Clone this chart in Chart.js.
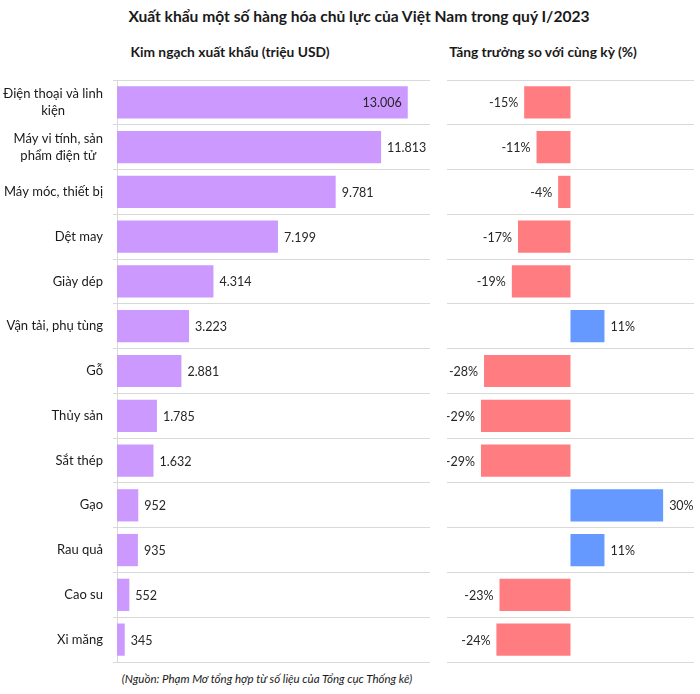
<!DOCTYPE html>
<html lang="vi">
<head>
<meta charset="utf-8">
<title>Xuất khẩu quý I/2023</title>
<script src="https://cdn.jsdelivr.net/npm/chart.js@4.4.0/dist/chart.umd.min.js"></script>
<style>
    body { margin: 0; background: #fff; font-family: Lato, "Noto Sans", sans-serif; color: #1a1a1a; }
    #page { position: relative; width: 700px; height: 694px; overflow: hidden; }
    .title { position: absolute; top: 7px; left: 0; width: 718px; text-align: center; font-weight: bold; font-size: 15.6px; }
    .sub { position: absolute; top: 43px; font-weight: bold; font-size: 13.8px; text-align: center; }
    .source { position: absolute; top: 672px; left: 0; width: 534px; text-align: center; font-style: italic; font-size: 11.5px; }
    #wrapLeft { position: absolute; left: 0; top: 78px; width: 432px; height: 588px; }
    #wrapRight { position: absolute; left: 447px; top: 78px; width: 251px; height: 588px; }
</style>
</head>
<body>
<div id="page">
    <div class="title">Xuất khẩu một số hàng hóa chủ lực của Việt Nam trong quý I/2023</div>
    <div class="sub" style="left:110px; width:240px;">Kim ngạch xuất khẩu (triệu USD)</div>
    <div class="sub" style="left:423px; width:240px;">Tăng trưởng so với cùng kỳ (%)</div>
    <div id="wrapLeft"><canvas id="exportChart"></canvas></div>
    <div id="wrapRight"><canvas id="growthChart"></canvas></div>
    <div class="source">(Nguồn: Phạm Mơ tổng hợp từ số liệu của Tổng cục Thống kê)</div>
</div>

<script>
// Dữ liệu
const categories = [
    ['Điện thoại và linh', 'kiện'],
    ['Máy vi tính, sản', 'phẩm điện tử'],
    'Máy móc, thiết bị',
    'Dệt may',
    'Giày dép',
    'Vận tải, phụ tùng',
    'Gỗ',
    'Thủy sản',
    'Sắt thép',
    'Gạo',
    'Rau quả',
    'Cao su',
    'Xi măng'
];
const exportValues = [13006, 11813, 9781, 7199, 4314, 3223, 2881, 1785, 1632, 952, 935, 552, 345];
const growthValues = [-15, -11, -4, -17, -19, 11, -28, -29, -29, 30, 11, -23, -24];

const FONT = 'Lato, "Noto Sans", sans-serif';
const GRID = '#d9d9d9';
const PURPLE = '#cc99ff';
const RED = '#ff7c80';
const BLUE = '#6699ff';

// số kiểu Việt Nam: 13.006
function fmtNumber(v) {
    return String(v).replace(/\B(?=(\d{3})+(?!\d))/g, '.');
}

// Nhãn giá trị ở đầu mỗi thanh
const barLabels = {
    id: 'barLabels',
    afterDatasetsDraw(chart, args, opts) {
        const ctx = chart.ctx;
        const area = chart.chartArea;
        const meta = chart.getDatasetMeta(0);
        const data = chart.data.datasets[0].data;
        ctx.save();
        ctx.font = '12.5px ' + FONT;
        ctx.fillStyle = '#262626';
        ctx.textBaseline = 'middle';
        meta.data.forEach((bar, i) => {
            const text = opts.format(data[i]);
            const w = ctx.measureText(text).width;
            const pad = 6;
            if (data[i] >= 0) {
                if (bar.x + pad + w > area.right) {
                    ctx.textAlign = 'right';
                    ctx.fillText(text, bar.x - pad, bar.y + 1);
                } else {
                    ctx.textAlign = 'left';
                    ctx.fillText(text, bar.x + pad, bar.y + 1);
                }
            } else {
                ctx.textAlign = 'right';
                ctx.fillText(text, bar.x - pad, bar.y + 1);
            }
        });
        ctx.restore();
    }
};

// Nhãn danh mục: dòng đôi căn giữa với nhau, khối căn phải
const categoryLabels = {
    id: 'categoryLabels',
    afterDraw(chart) {
        const ctx = chart.ctx;
        const yScale = chart.scales.y;
        const right = chart.chartArea.left - 14;
        ctx.save();
        ctx.font = '13px ' + FONT;
        ctx.fillStyle = '#1a1a1a';
        ctx.textBaseline = 'middle';
        ctx.textAlign = 'center';
        chart.data.labels.forEach((label, i) => {
            const lines = Array.isArray(label) ? label : [label];
            const maxW = Math.max(...lines.map(l => ctx.measureText(l).width));
            const cx = right - maxW / 2;
            const cy = yScale.getPixelForTick(i);
            const lh = 17;
            lines.forEach((l, k) => {
                ctx.fillText(l, cx, cy + (k - (lines.length - 1) / 2) * lh);
            });
        });
        ctx.restore();
    }
};

function baseOptions(min, max) {
    return {
        indexAxis: 'y',
        responsive: true,
        maintainAspectRatio: false,
        animation: false,
        layout: { padding: { top: 2, bottom: 4, right: 2, left: 0 } },
        plugins: { legend: { display: false }, tooltip: { enabled: false } },
        scales: {
            x: { display: false, min: min, max: max },
            y: {
                ticks: { display: false },
                grid: { color: GRID, offset: true, drawTicks: false },
                border: { display: false }
            }
        }
    };
}

// Biểu đồ kim ngạch
const leftOpts = baseOptions(0, 14000);
leftOpts.scales.y.grid.drawTicks = true;
leftOpts.scales.y.grid.tickLength = 4;
leftOpts.scales.y.border = { display: true, color: GRID };
leftOpts.scales.y.afterFit = s => { s.width = 117; };
leftOpts.plugins.barLabels = { format: fmtNumber };

new Chart(document.getElementById('exportChart'), {
    type: 'bar',
    data: {
        labels: categories,
        datasets: [{
            data: exportValues,
            backgroundColor: PURPLE,
            categoryPercentage: 1,
            barPercentage: 0.72
        }]
    },
    options: leftOpts,
    plugins: [barLabels, categoryLabels]
});

// Biểu đồ tăng trưởng
const rightOpts = baseOptions(-40, 40);
rightOpts.scales.y.afterFit = s => { s.width = 0; };
rightOpts.layout.padding.right = 4;
rightOpts.plugins.barLabels = { format: v => v + '%' };

new Chart(document.getElementById('growthChart'), {
    type: 'bar',
    data: {
        labels: categories,
        datasets: [{
            data: growthValues,
            backgroundColor: growthValues.map(v => v < 0 ? RED : BLUE),
            categoryPercentage: 1,
            barPercentage: 0.72
        }]
    },
    options: rightOpts,
    plugins: [barLabels]
});
</script>
</body>
</html>
